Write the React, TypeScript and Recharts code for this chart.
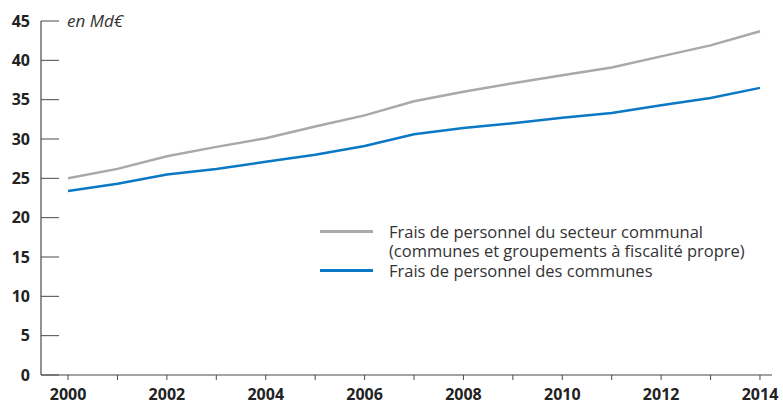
import { Legend, Line, LineChart, XAxis, YAxis } from 'recharts'

const years = [2000, 2001, 2002, 2003, 2004, 2005, 2006, 2007, 2008, 2009, 2010, 2011, 2012, 2013, 2014]
const secteurCommunal = [25.0, 26.2, 27.8, 29.0, 30.1, 31.6, 33.0, 34.8, 36.0, 37.1, 38.1, 39.1, 40.5, 41.9, 43.7]
const communes = [23.4, 24.3, 25.5, 26.2, 27.1, 28.0, 29.1, 30.6, 31.4, 32.0, 32.7, 33.3, 34.3, 35.2, 36.5]
const yTicks = [0, 5, 10, 15, 20, 25, 30, 35, 40, 45]

const GRAY = '#a8a9ab'
const BLUE = '#0b78c5'
const AXIS = '#4a4a4a'
const FONT = '"Open Sans", "Noto Sans", sans-serif'

const data = years.map((year, i) => ({
  year,
  secteur: secteurCommunal[i],
  communes: communes[i]
}))

function YTick(props: any) {
  const { x, y, payload } = props
  return (
    <g>
      <line x1={x} y1={y} x2={x + 18} y2={y} stroke={AXIS} strokeWidth={1} />
      <text
        x={x - 11}
        y={y}
        dy={5.5}
        textAnchor="end"
        fill="#222"
        fontSize={16}
        fontWeight={700}
        fontFamily={FONT}
      >
        {payload.value}
      </text>
    </g>
  )
}

function LegendContent() {
  const row = { display: 'flex', alignItems: 'flex-start' as const }
  const text = { fontSize: 16.5, color: '#333', lineHeight: '19px', fontFamily: FONT, whiteSpace: 'nowrap' as const }
  return (
    <div style={{ textAlign: 'left' }}>
      <div style={row}>
        <div style={{ width: 53, height: 3, background: GRAY, marginTop: 8, marginRight: 16 }} />
        <div style={text}>
          Frais de personnel du secteur communal
          <br />
          (communes et groupements à fiscalité propre)
        </div>
      </div>
      <div style={{ ...row, marginTop: 1 }}>
        <div style={{ width: 53, height: 3, background: BLUE, marginTop: 8, marginRight: 16 }} />
        <div style={text}>Frais de personnel des communes</div>
      </div>
    </div>
  )
}

export default function App() {
  return (
    <div style={{ position: 'absolute', left: 0, top: 0, width: 783, height: 405, background: '#fff' }}>
      <LineChart width={783} height={405} data={data} margin={{ top: 21, right: 11, left: 0, bottom: 0 }}>
        <XAxis
          dataKey="year"
          type="number"
          domain={[1999.453, 2014.243]}
          ticks={years}
          allowDataOverflow
          interval={0}
          height={30}
          tickSize={5}
          tickMargin={9}
          axisLine={{ stroke: AXIS, strokeWidth: 1.2 }}
          tickLine={{ stroke: AXIS }}
          tickFormatter={(v: number) => (v % 2 === 0 ? String(v) : '')}
          tick={{ fill: '#222', fontSize: 16, fontWeight: 700, fontFamily: FONT }}
        />
        <YAxis
          domain={[0, 45]}
          ticks={yTicks}
          interval={0}
          width={41}
          tickSize={0}
          tickMargin={0}
          tickLine={false}
          axisLine={{ stroke: AXIS, strokeWidth: 1.2 }}
          tick={<YTick />}
        />
        <Legend
          verticalAlign="middle"
          align="center"
          layout="horizontal"
          content={<LegendContent />}
          wrapperStyle={{ position: 'absolute', left: 320, top: 222, width: 460 }}
        />
        <Line
          type="linear"
          dataKey="secteur"
          stroke={GRAY}
          strokeWidth={2.5}
          dot={false}
          isAnimationActive={false}
        />
        <Line
          type="linear"
          dataKey="communes"
          stroke={BLUE}
          strokeWidth={2.5}
          dot={false}
          isAnimationActive={false}
        />
      </LineChart>
      <div
        style={{
          position: 'absolute',
          left: 67,
          top: 10,
          fontSize: 17,
          lineHeight: '22px',
          fontStyle: 'italic',
          color: '#333',
          fontFamily: FONT
        }}
      >
        en Md€
      </div>
    </div>
  )
}
